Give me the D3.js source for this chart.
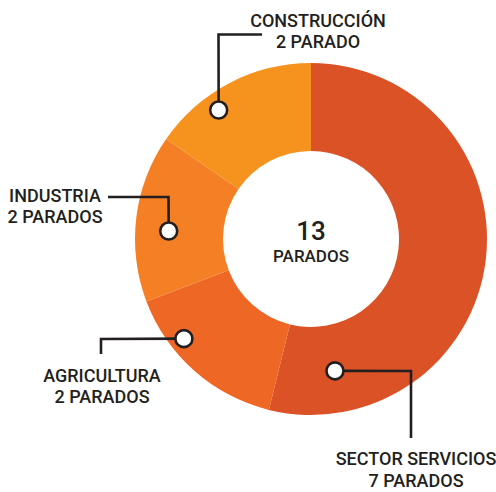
<!DOCTYPE html>
<html>
<head>
<meta charset="utf-8">
<script src="https://cdn.jsdelivr.net/npm/d3@7"></script>
<style>
  html, body { margin: 0; padding: 0; background: #fff; }
  svg { display: block; }
  text { font-family: Roboto, "Liberation Sans", sans-serif; fill: #231f20; }
</style>
</head>
<body>
<svg id="chart" width="496" height="492"></svg>
<script>
// Parados por sector
const sectors = ["SECTOR SERVICIOS", "AGRICULTURA", "INDUSTRIA", "CONSTRUCCIÓN"];
const parados = [7, 2, 2, 2];
const unitLabels = ["7 PARADOS", "2 PARADOS", "2 PARADOS", "2 PARADO"];
const sectorColors = ["#db5227", "#ef6724", "#f47f25", "#f6921e"];
const totalLabel = "PARADOS";

const width = 496, height = 492;
const cx = 311, cy = 239;
const outerR = 176, innerR = 88;

// Callout layout: marker angle (deg, clockwise from top) and radius,
// then the leader line path and label placement.
const callouts = [
  { angle: 169.7, r: 134, path: [[411, 371], [411, 438]], lx: 416, ly: 465 },
  { angle: 231.9, r: 161.5, path: [[101, 339], [101, 354]], lx: 102, ly: 381.7 },
  { angle: 273.2, r: 142.5, path: [[168.5, 197], [108, 197]], lx: 55, ly: 201.7 },
  { angle: 324.4, r: 158.6, path: [[218.5, 34.5], [262, 34.5]], lx: 318, ly: 26.7 }
];

const svg = d3.select("#chart");
const g = svg.append("g").attr("transform", `translate(${cx},${cy})`);

const pie = d3.pie().sort(null).value(d => d);
const arc = d3.arc().innerRadius(innerR).outerRadius(outerR);
const color = d3.scaleOrdinal().domain(sectors).range(sectorColors);

const arcs = pie(parados);

g.selectAll("path.slice")
  .data(arcs)
  .join("path")
  .attr("class", "slice")
  .attr("d", arc)
  .attr("fill", (d, i) => color(sectors[i]));

// Total in the centre
const total = d3.sum(parados);
g.append("text")
  .attr("x", 0).attr("y", 1)
  .attr("text-anchor", "middle")
  .attr("font-size", 26)
  .attr("font-weight", 500)
  .text(total);
g.append("text")
  .attr("x", 0).attr("y", 23)
  .attr("text-anchor", "middle")
  .attr("font-size", 17)
  .attr("font-weight", 500)
  .text(totalLabel);

// Callouts
const lineGen = d3.line();
callouts.forEach((c, i) => {
  const a = c.angle * Math.PI / 180;
  const mx = cx + c.r * Math.sin(a);
  const my = cy - c.r * Math.cos(a);
  const pts = [[mx, my]].concat(c.path);
  svg.append("path")
    .attr("d", lineGen(pts))
    .attr("fill", "none")
    .attr("stroke", "#231f20")
    .attr("stroke-width", 2.6);
  svg.append("circle")
    .attr("cx", mx).attr("cy", my).attr("r", 8.5)
    .attr("fill", "#fff")
    .attr("stroke", "#231f20")
    .attr("stroke-width", 2.6);
  const t = svg.append("text")
    .attr("text-anchor", "middle")
    .attr("font-size", 18)
    .attr("font-weight", 500);
  t.append("tspan").attr("x", c.lx).attr("y", c.ly).text(sectors[i]);
  t.append("tspan").attr("x", c.lx).attr("y", c.ly + 21.6).text(unitLabels[i]);
});
</script>
</body>
</html>
